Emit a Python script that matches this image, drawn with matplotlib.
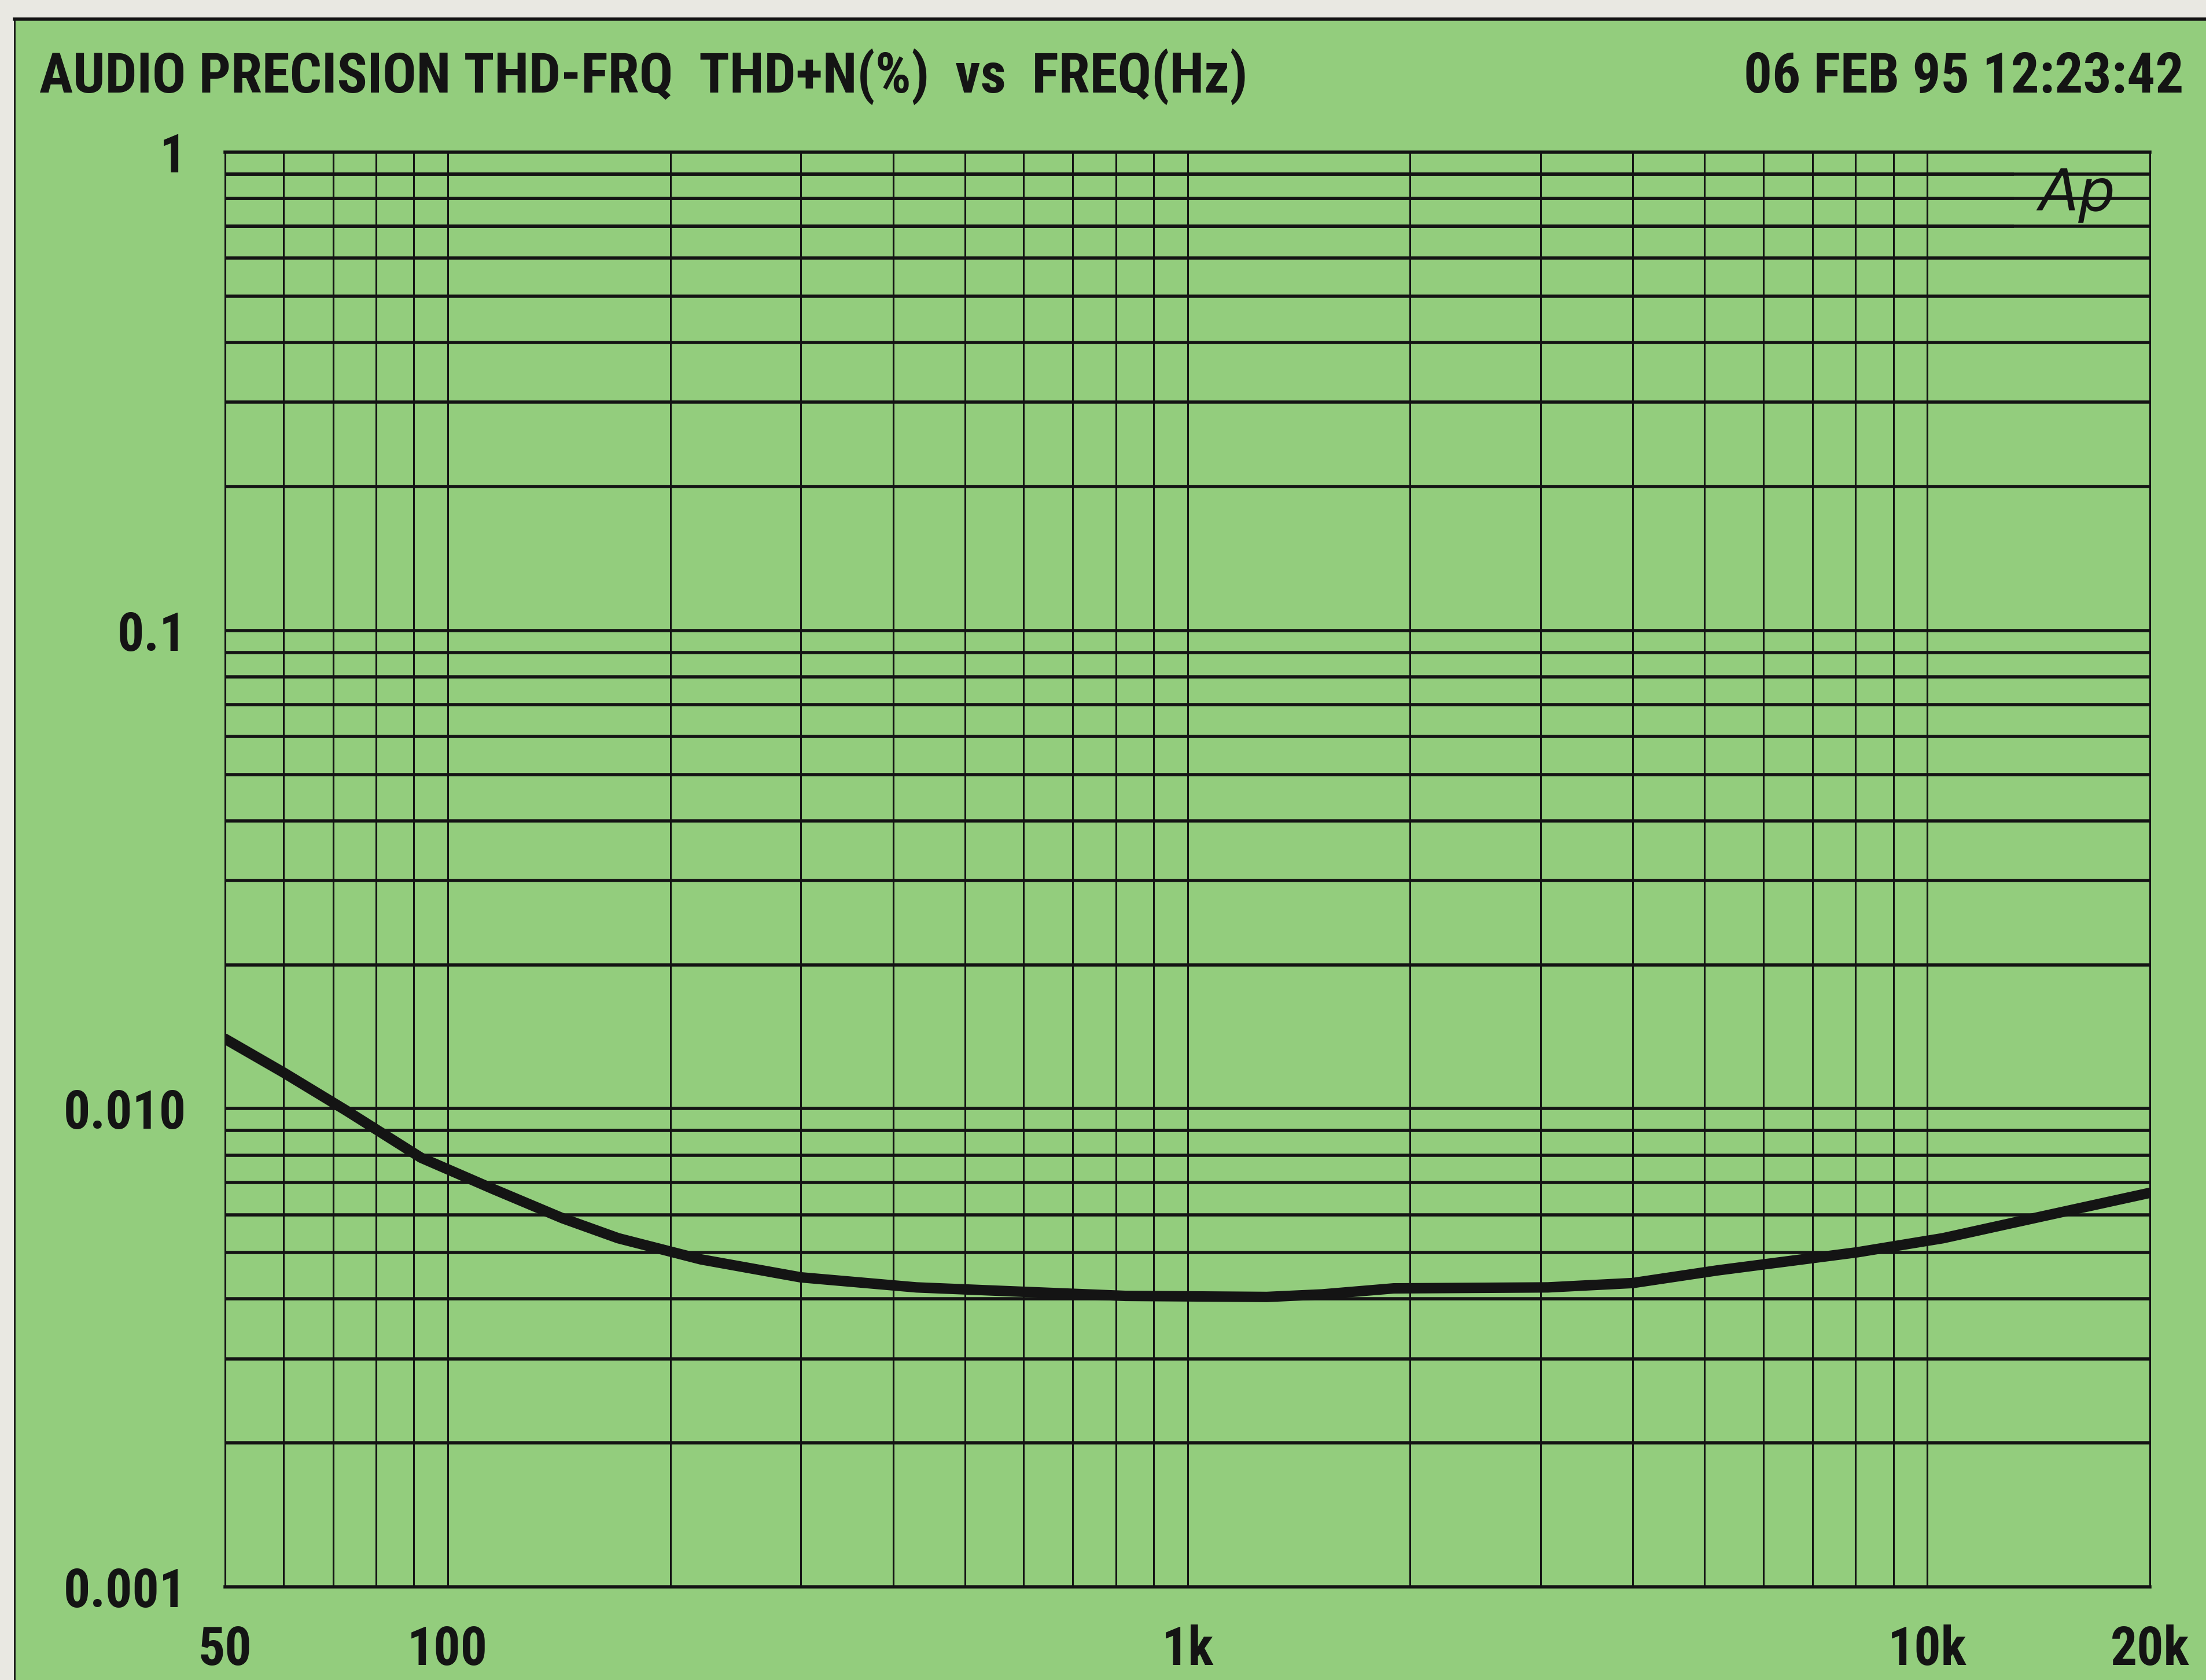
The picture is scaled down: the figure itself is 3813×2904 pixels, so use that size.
import matplotlib.pyplot as plt
from matplotlib.patches import Rectangle

# curve
freq = [50, 60, 73, 92, 115, 143, 170, 220, 300, 430, 580, 825, 1280, 1520,
        1900, 3070, 4000, 5200, 8050, 10500, 14200, 20000]
thd = [0.0140, 0.0119, 0.0099, 0.0079, 0.0068, 0.0059, 0.00536, 0.00484,
       0.00444, 0.00423, 0.00415, 0.00406, 0.00404, 0.00409, 0.00421, 0.00423,
       0.00432, 0.00459, 0.00501, 0.00536, 0.00594, 0.00667]

# grid positions
vgrid = [60, 70, 80, 90, 100, 200, 300, 400, 500, 600, 700, 800, 900,
         1000, 2000, 3000, 4000, 5000, 6000, 7000, 8000, 9000, 10000]
hgrid = [m * d for d in (0.001, 0.01, 0.1) for m in range(2, 10)] + [0.01, 0.1]
hgrid_short = [0.7, 0.8, 0.9]

xticks = [50, 100, 1000, 10000, 20000]
xlabels = ['50', '100', '1k', '10k', '20k']
yticks = [0.001, 0.01, 0.1, 1]
ylabels = ['0.001', '0.010', '0.1', '1']

title = 'AUDIO PRECISION THD-FRQ  THD+N(%)  vs  FREQ(Hz)'
stamp = '06 FEB 95 12:23:42'

green = '#93cd7d'
ink = '#141414'
font = ['Roboto Condensed', 'Archivo Narrow', 'Liberation Sans', 'DejaVu Sans']

fig = plt.figure(figsize=(38.13, 29.04), dpi=100, facecolor=green)

# paper strips outside the printed frame
fig.patches.append(Rectangle((0, 0.9886), 1, 0.02, transform=fig.transFigure,
                             color='#e9e8e2', zorder=0))
fig.patches.append(Rectangle((0, 0), 0.0066, 1, transform=fig.transFigure,
                             color='#e9e8e2', zorder=0))
fig.add_artist(plt.Line2D([0.0066, 1], [0.9886, 0.9886], transform=fig.transFigure,
                          color=ink, lw=4))
fig.add_artist(plt.Line2D([0.0066, 0.0066], [0, 0.9886], transform=fig.transFigure,
                          color=ink, lw=2))

ax = fig.add_axes([0.102, 0.0554, 0.8726, 0.854])
ax.set_facecolor(green)
ax.set_xscale('log')
ax.set_yscale('log')
ax.set_xlim(50, 20000)
ax.set_ylim(0.001, 1)

for f in vgrid:
    ax.axvline(f, color=ink, lw=2.2, zorder=1)
ax.hlines(hgrid, 50, 20000, color=ink, lw=4.0, zorder=1)
ax.hlines(hgrid_short, 50, 13100, color=ink, lw=4.0, zorder=1)

ax.plot(freq, thd, color=ink, lw=13, solid_capstyle='round',
        solid_joinstyle='round', zorder=3)

for side in ['top', 'bottom']:
    ax.spines[side].set_linewidth(4.0)
for side in ['left', 'right']:
    ax.spines[side].set_linewidth(2.2)
for s in ax.spines.values():
    s.set_color(ink)

ax.minorticks_off()
ax.set_xticks(xticks, xlabels)
ax.set_yticks(yticks, ylabels)
ax.tick_params(length=0)
ax.tick_params(axis='x', pad=47)
ax.tick_params(axis='y', pad=48)
for lab in ax.get_xticklabels() + ax.get_yticklabels():
    lab.set_family(font)
    lab.set_fontweight('bold')
    lab.set_fontsize(66)
    lab.set_color(ink)

fig.text(0.0178, 0.945, title, family=font, fontweight='bold', fontsize=70,
         color=ink, ha='left', va='baseline')
fig.text(0.990, 0.945, stamp, family=font, fontweight='bold', fontsize=70,
         color=ink, ha='right', va='baseline')

ax.text(0.9415, 0.884, 'Ap', transform=fig.transFigure, family='DejaVu Sans',
        fontstyle='italic', fontweight='light', fontsize=72, color=ink,
        ha='center', va='center')

fig.savefig('out.png', dpi=100, facecolor=green)
